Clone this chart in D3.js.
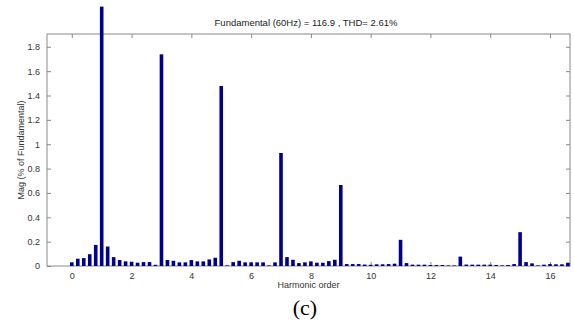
<!DOCTYPE html>
<html>
<head>
<meta charset="utf-8">
<script src="https://cdn.jsdelivr.net/npm/d3@7"></script>
<style>
  html, body { margin: 0; padding: 0; background: #fff; }
  svg { display: block; }
</style>
</head>
<body>
<svg id="chart" width="574" height="324"></svg>
<script>
// ---- data ----
const harmonicOrder = [
  0.0, 0.2, 0.4, 0.6, 0.8, 1.0, 1.2, 1.4, 1.6, 1.8,
  2.0, 2.2, 2.4, 2.6, 2.8, 3.0, 3.2, 3.4, 3.6, 3.8,
  4.0, 4.2, 4.4, 4.6, 4.8, 5.0, 5.2, 5.4, 5.6, 5.8,
  6.0, 6.2, 6.4, 6.6, 6.8, 7.0, 7.2, 7.4, 7.6, 7.8,
  8.0, 8.2, 8.4, 8.6, 8.8, 9.0, 9.2, 9.4, 9.6, 9.8,
  10.0, 10.2, 10.4, 10.6, 10.8, 11.0, 11.2, 11.4, 11.6, 11.8,
  12.0, 12.2, 12.4, 12.6, 12.8, 13.0, 13.2, 13.4, 13.6, 13.8,
  14.0, 14.2, 14.4, 14.6, 14.8, 15.0, 15.2, 15.4, 15.6, 15.8,
  16.0, 16.2, 16.4, 16.6
];
const magnitude = [
  0.030, 0.060, 0.065, 0.097, 0.173, 2.130, 0.160, 0.073, 0.049, 0.038,
  0.035, 0.027, 0.032, 0.032, 0.010, 1.738, 0.049, 0.043, 0.030, 0.030,
  0.049, 0.038, 0.038, 0.054, 0.068, 1.478, 0.005, 0.032, 0.043, 0.030,
  0.030, 0.030, 0.030, 0.005, 0.030, 0.928, 0.073, 0.051, 0.024, 0.030,
  0.038, 0.027, 0.027, 0.040, 0.051, 0.665, 0.016, 0.016, 0.016, 0.012,
  0.010, 0.014, 0.014, 0.016, 0.019, 0.215, 0.024, 0.011, 0.011, 0.011,
  0.008, 0.008, 0.008, 0.005, 0.005, 0.077, 0.012, 0.011, 0.011, 0.011,
  0.011, 0.008, 0.005, 0.008, 0.016, 0.278, 0.032, 0.022, 0.005, 0.011,
  0.016, 0.014, 0.014, 0.027
];
const xTicks = [0, 2, 4, 6, 8, 10, 12, 14, 16];
const yTicks = [0, 0.2, 0.4, 0.6, 0.8, 1, 1.2, 1.4, 1.6, 1.8];
const titleText = "Fundamental (60Hz) = 116.9 , THD= 2.61%";
const xLabel = "Harmonic order";
const yLabel = "Mag (% of Fundamental)";
const caption = "(c)";

// ---- layout ----
const svg = d3.select("#chart");
const L = 47, R = 570, T = 34, B = 266;
const x = d3.scaleLinear().domain([-0.83, 16.67]).range([L, R]);
const y = d3.scaleLinear().domain([0, 1.905]).range([B, T]);
const axisColor = "#8a8a8a";
const textColor = "#333";
const font = "Liberation Sans, Arial, sans-serif";

// box
svg.append("rect")
  .attr("x", L).attr("y", T).attr("width", R - L).attr("height", B - T)
  .attr("fill", "none").attr("stroke", axisColor).attr("stroke-width", 1);

function styleAxis(g, showText) {
  g.select(".domain").remove();
  g.selectAll("line").attr("stroke", axisColor);
  g.selectAll("text").attr("fill", textColor).style("font-family", font).style("font-size", "9px");
  if (!showText) g.selectAll("text").remove();
}

// bottom axis (ticks inward)
svg.append("g").attr("transform", `translate(0,${B})`)
  .call(d3.axisBottom(x).tickValues(xTicks).tickSizeInner(-4).tickSizeOuter(0).tickPadding(7).tickFormat(d3.format("d")))
  .call(g => styleAxis(g, true));
// top axis
svg.append("g").attr("transform", `translate(0,${T})`)
  .call(d3.axisTop(x).tickValues(xTicks).tickSizeInner(-4).tickSizeOuter(0))
  .call(g => styleAxis(g, false));
// left axis
svg.append("g").attr("transform", `translate(${L},0)`)
  .call(d3.axisLeft(y).tickValues(yTicks).tickSizeInner(-4).tickSizeOuter(0).tickPadding(7).tickFormat(d => d3.format("~g")(d)))
  .call(g => styleAxis(g, true));
// right axis
svg.append("g").attr("transform", `translate(${R},0)`)
  .call(d3.axisRight(y).tickValues(yTicks).tickSizeInner(-4).tickSizeOuter(0))
  .call(g => styleAxis(g, false));

// bars
const bw = 3.6;
svg.append("g").selectAll("rect")
  .data(harmonicOrder.map((h, i) => ({h, v: magnitude[i]})))
  .join("rect")
  .attr("x", d => x(d.h) - bw / 2)
  .attr("y", d => y(d.v))
  .attr("width", bw)
  .attr("height", d => y(0) - y(d.v))
  .attr("fill", "#00008f");

// title
svg.append("text").attr("x", 306).attr("y", 26).attr("text-anchor", "middle")
  .style("font-family", font).style("font-size", "9.5px").attr("fill", "#222")
  .text(titleText);
// x label
svg.append("text").attr("x", (L + R) / 2).attr("y", 288).attr("text-anchor", "middle")
  .style("font-family", font).style("font-size", "9px").attr("fill", textColor)
  .text(xLabel);
// y label
svg.append("text").attr("transform", `translate(24,${(T + B) / 2}) rotate(-90)`)
  .attr("text-anchor", "middle")
  .style("font-family", font).style("font-size", "9px").attr("fill", textColor)
  .text(yLabel);
// caption
svg.append("text").attr("x", 305).attr("y", 315).attr("text-anchor", "middle")
  .style("font-family", "Liberation Serif, Times New Roman, serif").style("font-size", "22px").attr("fill", "#000")
  .text(caption);
</script>
</body>
</html>
